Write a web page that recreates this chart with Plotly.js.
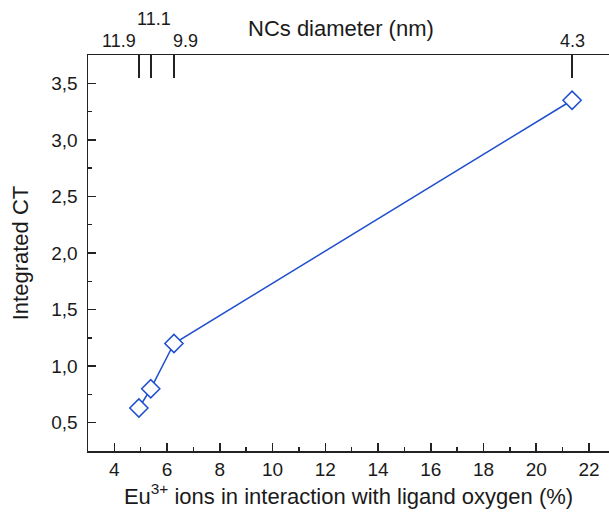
<!DOCTYPE html>
<html>
<head>
<meta charset="utf-8">
<script src="https://cdn.plot.ly/plotly-3.0.1.min.js"></script>
<style>html,body{margin:0;padding:0;background:#fff;}#chart{width:609px;height:514px;}</style>
</head>
<body>
<div id="chart"></div>
<script>
// Data
const euPercent = [4.93, 5.38, 6.26, 21.36];
const integratedCT = [0.63, 0.80, 1.20, 3.35];
const diameterLabels = ['11.9', '11.1', '9.9', '4.3'];

const xTitle = 'Eu<sup>3+</sup> ions in interaction with ligand oxygen (%)';
const yTitle = 'Integrated CT';
const topTitle = 'NCs diameter (nm)';

// label placement offsets (styling only)
const labelShiftX = [-20, 3, 12, 0];
const labelShiftY = [14, 36, 14, 14];

const blue = '#1f4fce';
const ink = '#1a1a1a';
const fontFam = '"Liberation Sans", Arial, sans-serif';

const trace = {
  x: euPercent, y: integratedCT, type: 'scatter', mode: 'lines+markers',
  line: {color: blue, width: 1.5},
  marker: {symbol: 'diamond', size: 14, color: '#ffffff', line: {color: blue, width: 1.5}},
  hoverinfo: 'skip', showlegend: false
};

const annotations = diameterLabels.map((t, i) => ({
  x: euPercent[i], xref: 'x', y: 1, yref: 'paper',
  text: t, showarrow: false, xanchor: 'center', yanchor: 'middle',
  xshift: labelShiftX[i], yshift: labelShiftY[i],
  font: {family: fontFam, size: 18, color: ink}
}));
annotations.push({
  x: 0.5, xref: 'paper', y: 1, yref: 'paper', text: topTitle, showarrow: false,
  xanchor: 'center', yanchor: 'middle', xshift: -8, yshift: 27,
  font: {family: fontFam, size: 22, color: ink}
});

const layout = {
  width: 609, height: 514,
  margin: {l: 88, r: 0, t: 55, b: 63},
  paper_bgcolor: '#fff', plot_bgcolor: '#fff',
  separators: ', ',
  font: {family: fontFam, color: ink, size: 18},
  xaxis: {
    range: [3, 22.76], tick0: 0, dtick: 2,
    showgrid: false, zeroline: false,
    showline: true, linecolor: '#222', linewidth: 1.5,
    ticks: 'inside', ticklen: 8, tickwidth: 1.5, tickcolor: '#222',
    minor: {dtick: 1, ticks: 'inside', ticklen: 4, tickwidth: 1.5, tickcolor: '#222', showgrid: false},
    tickfont: {size: 19, color: ink},
    ticklabelstandoff: 1,
    title: {text: xTitle, font: {size: 22, color: ink}, standoff: 6}
  },
  xaxis2: {
    overlaying: 'x', side: 'top', matches: 'x', anchor: 'y',
    range: [3, 22.76],
    tickmode: 'array', tickvals: euPercent, ticktext: diameterLabels,
    showticklabels: false,
    showgrid: false, zeroline: false,
    showline: true, linecolor: '#222', linewidth: 1.5,
    ticks: 'inside', ticklen: 23, tickwidth: 1.5, tickcolor: '#222'
  },
  yaxis: {
    range: [0.25, 3.75], tick0: 0.5, dtick: 0.5, tickformat: '.1f',
    showgrid: false, zeroline: false,
    showline: true, linecolor: '#222', linewidth: 1.5,
    ticks: 'inside', ticklen: 8, tickwidth: 1.5, tickcolor: '#222',
    minor: {dtick: 0.25, ticks: 'inside', ticklen: 4, tickwidth: 1.5, tickcolor: '#222', showgrid: false},
    tickfont: {size: 19, color: ink},
    ticklabelstandoff: 5,
    title: {text: yTitle, font: {size: 22, color: ink}, standoff: 16}
  },
  annotations: annotations
};

const trace2 = {x: [euPercent[0]], y: [integratedCT[0]], xaxis: 'x2', yaxis: 'y', mode: 'markers',
  marker: {opacity: 0}, hoverinfo: 'skip', showlegend: false};

Plotly.newPlot('chart', [trace, trace2], layout, {displayModeBar: false, staticPlot: true});
</script>
</body>
</html>
